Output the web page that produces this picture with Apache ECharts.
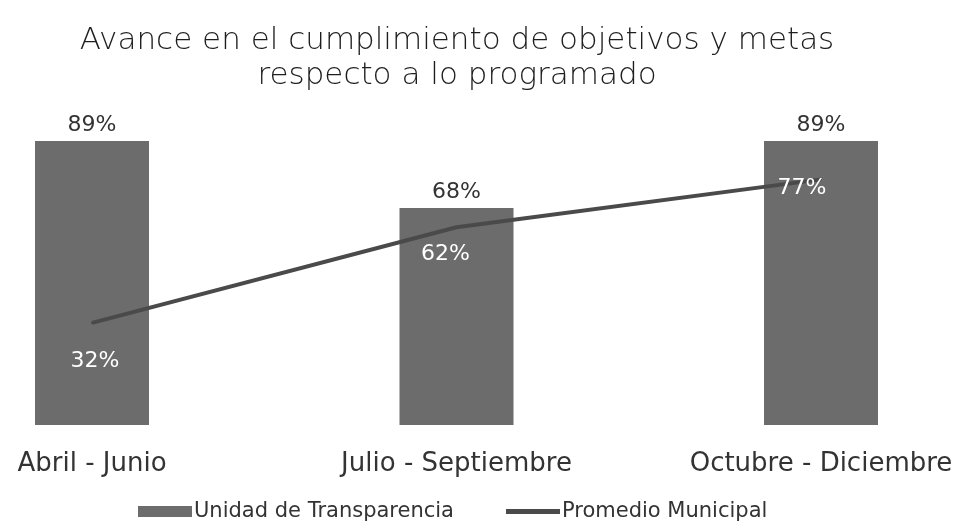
<!DOCTYPE html>
<html>
<head>
<meta charset="utf-8">
<script src="https://cdn.jsdelivr.net/npm/echarts@6/dist/echarts.min.js"></script>
<style>
  html, body { margin: 0; padding: 0; background: #fff; }
  #main { width: 960px; height: 524px; }
</style>
</head>
<body>
<div id="main"></div>
<script>
// datos
const periodos = ['Abril - Junio', 'Julio - Septiembre', 'Octubre - Diciembre']
const unidadTransparencia = [89, 68, 89]
const promedioMunicipal = [32, 62, 77]
// desplazamiento de las etiquetas de la linea (como en el original)
const offsetsLinea = [[3, 38], [-11, 27], [-19, 9]]

const fuente = 'DejaVu Sans'
const chart = echarts.init(document.getElementById('main'))
chart.setOption({
  animation: false,
  backgroundColor: '#fff',
  title: {
    text: 'Avance en el cumplimiento de objetivos y metas\nrespecto a lo programado',
    left: 452,
    textAlign: 'center',
    top: 18,
    textStyle: {
      fontFamily: fuente,
      fontWeight: 300,
      fontSize: 31,
      lineHeight: 35,
      color: '#1e1e1e'
    }
  },
  legend: {
    left: 133,
    top: 496,
    itemWidth: 54,
    itemHeight: 11,
    itemGap: 52,
    textStyle: { fontFamily: fuente, fontSize: 21, color: '#333', padding: [0, 0, 0, -3] },
    data: [
      { name: 'Unidad de Transparencia', icon: 'rect' },
      { name: 'Promedio Municipal', icon: 'path://M0,0h56v5h-56z' }
    ]
  },
  grid: {
    left: 92,
    right: 139,
    top: 106,
    bottom: 99
  },
  xAxis: {
    type: 'category',
    boundaryGap: false,
    data: periodos,
    axisLine: { show: false },
    axisTick: { show: false },
    axisLabel: {
      margin: 26,
      fontFamily: fuente,
      fontSize: 26,
      color: '#333'
    }
  },
  yAxis: {
    type: 'value',
    min: 0,
    max: 100,
    show: false,
    splitLine: { show: false }
  },
  series: [
    {
      name: 'Unidad de Transparencia',
      type: 'bar',
      barWidth: 114,
      itemStyle: { color: '#6c6c6c' },
      label: {
        show: true,
        position: 'top',
        distance: 5,
        formatter: '{c}%',
        fontFamily: fuente,
        fontSize: 22,
        color: '#333'
      },
      data: unidadTransparencia
    },
    {
      name: 'Promedio Municipal',
      type: 'line',
      symbol: 'circle',
      symbolSize: 2,
      itemStyle: { color: '#4a4a4a' },
      lineStyle: { color: '#4a4a4a', width: 4 },
      label: {
        show: true,
        position: 'inside',
        formatter: '{c}%',
        fontFamily: fuente,
        fontSize: 22,
        color: '#fff'
      },
      data: promedioMunicipal.map((v, i) => ({
        value: v,
        label: { offset: offsetsLinea[i] }
      }))
    }
  ]
})
</script>
</body>
</html>
